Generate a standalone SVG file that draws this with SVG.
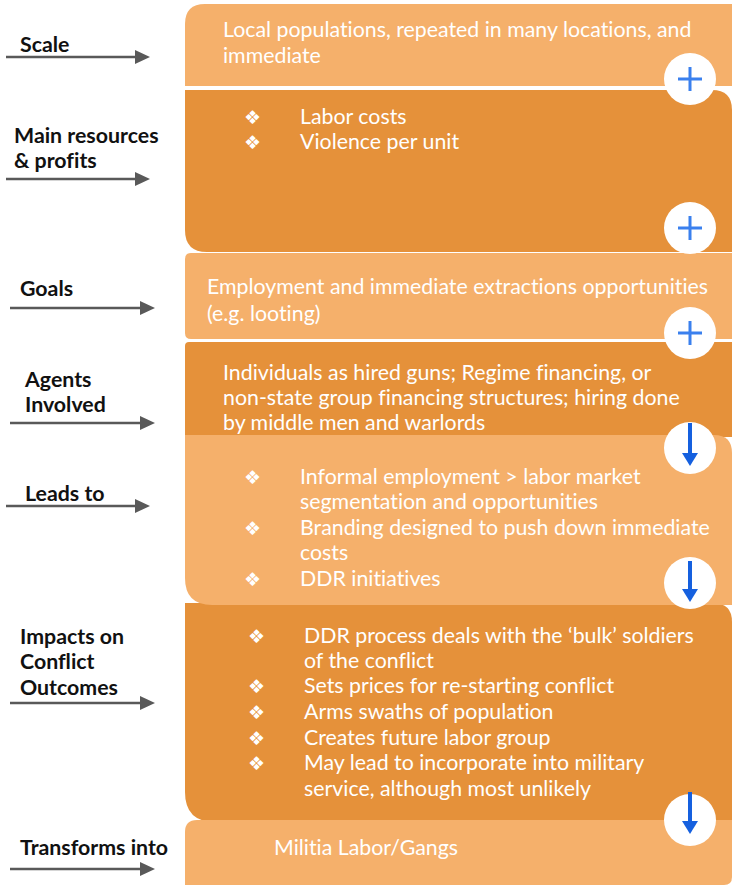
<svg xmlns="http://www.w3.org/2000/svg" width="732" height="886" viewBox="0 0 732 886">
<defs>
<style>
.light{fill:#F5B06B}
.dark{fill:#E5913A}
.t{font-family:Lato,"Liberation Sans",sans-serif;font-size:21.33px;fill:#FFFFFF;font-variant-ligatures:none}
.b{font-family:"DejaVu Sans",sans-serif;font-size:19px;fill:#FFFFFF}
.lbl{font-family:Lato,"Liberation Sans",sans-serif;font-size:21.33px;font-weight:bold;fill:#111111;font-variant-ligatures:none}
.ar{stroke:#595959;stroke-width:2.5;fill:none}
.ah{fill:#595959}
.circ{fill:#FFFFFF}
.plus{stroke:#3A80EE;stroke-width:3;fill:none}
.down{stroke:#1560DF;stroke-width:4;fill:none}
.downh{fill:#1560DF}
</style>
</defs>
<rect width="732" height="886" fill="#FFFFFF"/>

<g id="connectors">
<line class="ar" x1="6" y1="57" x2="137" y2="57"/><path class="ah" d="M135,50 L150,57 L135,64 Z"/>
<line class="ar" x1="6" y1="179" x2="137" y2="179"/><path class="ah" d="M135,172 L150,179 L135,186 Z"/>
<line class="ar" x1="10" y1="308" x2="142" y2="308"/><path class="ah" d="M140,301 L155,308 L140,315 Z"/>
<line class="ar" x1="10" y1="423" x2="142" y2="423"/><path class="ah" d="M140,416 L155,423 L140,430 Z"/>
<line class="ar" x1="6" y1="506" x2="137" y2="506"/><path class="ah" d="M135,499 L150,506 L135,513 Z"/>
<line class="ar" x1="10" y1="703" x2="142" y2="703"/><path class="ah" d="M140,696 L155,703 L140,710 Z"/>
<line class="ar" x1="10" y1="869" x2="142" y2="869"/><path class="ah" d="M140,862 L155,869 L140,876 Z"/>
</g>

<g id="labels">
<text class="lbl" x="20" y="52">Scale</text>
<text class="lbl" x="14" y="143">Main resources</text>
<text class="lbl" x="14" y="168">&amp; profits</text>
<text class="lbl" x="20" y="296">Goals</text>
<text class="lbl" x="25" y="387">Agents</text>
<text class="lbl" x="25" y="412">Involved</text>
<text class="lbl" x="25" y="501">Leads to</text>
<text class="lbl" x="20" y="644">Impacts on</text>
<text class="lbl" x="20" y="669">Conflict</text>
<text class="lbl" x="20" y="695">Outcomes</text>
<text class="lbl" x="20" y="855">Transforms into</text>
</g>

<g id="box-scale">
<path class="light" d="M185,24 Q185,4 205,4 H732 V86 H185 Z"/>
<text class="t" x="223" y="37">Local populations, repeated in many locations, and</text>
<text class="t" x="223" y="63">immediate</text>
</g>

<g id="box-resources">
<path class="dark" d="M185,90 H712 Q732,90 732,110 V252 H207 Q185,252 185,230 Z"/>
<text class="b" x="244" y="124">❖</text>
<text class="t" x="300" y="124">Labor costs</text>
<text class="b" x="244" y="149">❖</text>
<text class="t" x="300" y="149">Violence per unit</text>
</g>

<g id="box-goals">
<path class="light" d="M191,253 H732 V339 H191 Q185,339 185,333 V259 Q185,253 191,253 Z"/>
<text class="t" x="207" y="294">Employment and immediate extractions opportunities</text>
<text class="t" x="207" y="321">(e.g. looting)</text>
</g>

<g id="box-agents">
<path class="dark" d="M189,342 H732 V437 H185 V346 Q185,342 189,342 Z"/>
<text class="t" x="223" y="380">Individuals as hired guns; Regime financing, or</text>
<text class="t" x="223" y="405">non-state group financing structures; hiring done</text>
<text class="t" x="223" y="430">by middle men and warlords</text>
</g>

<g id="box-impacts">
<path class="dark" d="M185,603 H713 Q732,603 732,622 V822 H215 Q185,822 185,792 Z"/>
<text class="b" x="248" y="643">❖</text>
<text class="t" x="304" y="643">DDR process deals with the ‘bulk’ soldiers</text>
<text class="t" x="304" y="668">of the conflict</text>
<text class="b" x="248" y="693">❖</text>
<text class="t" x="304" y="693">Sets prices for re-starting conflict</text>
<text class="b" x="248" y="719">❖</text>
<text class="t" x="304" y="719">Arms swaths of population</text>
<text class="b" x="248" y="745">❖</text>
<text class="t" x="304" y="745">Creates future labor group</text>
<text class="b" x="248" y="770">❖</text>
<text class="t" x="304" y="770">May lead to incorporate into military</text>
<text class="t" x="304" y="796">service, although most unlikely</text>
</g>

<g id="box-leads">
<path class="light" d="M185,435 H714 Q732,435 732,453 V605 H212 Q185,605 185,578 Z"/>
<text class="b" x="244" y="484">❖</text>
<text class="t" x="300" y="484">Informal employment &gt; labor market</text>
<text class="t" x="300" y="509">segmentation and opportunities</text>
<text class="b" x="244" y="535">❖</text>
<text class="t" x="300" y="535">Branding designed to push down immediate</text>
<text class="t" x="300" y="560">costs</text>
<text class="b" x="244" y="586">❖</text>
<text class="t" x="300" y="586">DDR initiatives</text>
</g>

<g id="box-transforms">
<path class="light" d="M197,820 H732 V877 Q732,885 724,885 H185 V832 Q185,820 197,820 Z"/>
<text class="t" x="274" y="855">Militia Labor/Gangs</text>
</g>

<g id="icon-plus-1">
<circle class="circ" cx="690" cy="79" r="26"/>
<path class="plus" d="M678,79 H702 M690,67 V91"/>
</g>
<g id="icon-plus-2">
<circle class="circ" cx="690" cy="228" r="26"/>
<path class="plus" d="M678,228 H702 M690,216 V240"/>
</g>
<g id="icon-plus-3">
<circle class="circ" cx="690" cy="333" r="26"/>
<path class="plus" d="M678,333 H702 M690,321 V345"/>
</g>
<g id="icon-down-1">
<circle class="circ" cx="690" cy="448" r="26"/>
<path class="down" d="M690,423 V455"/>
<path class="downh" d="M682,453 H698 L690,466 Z"/>
</g>
<g id="icon-down-2">
<circle class="circ" cx="690" cy="583" r="26"/>
<path class="down" d="M690,561 V591"/>
<path class="downh" d="M682,589 H698 L690,602 Z"/>
</g>
<g id="icon-down-3">
<circle class="circ" cx="690" cy="820" r="26"/>
<path class="down" d="M690,792 V823"/>
<path class="downh" d="M682,821 H698 L690,834 Z"/>
</g>
</svg>
